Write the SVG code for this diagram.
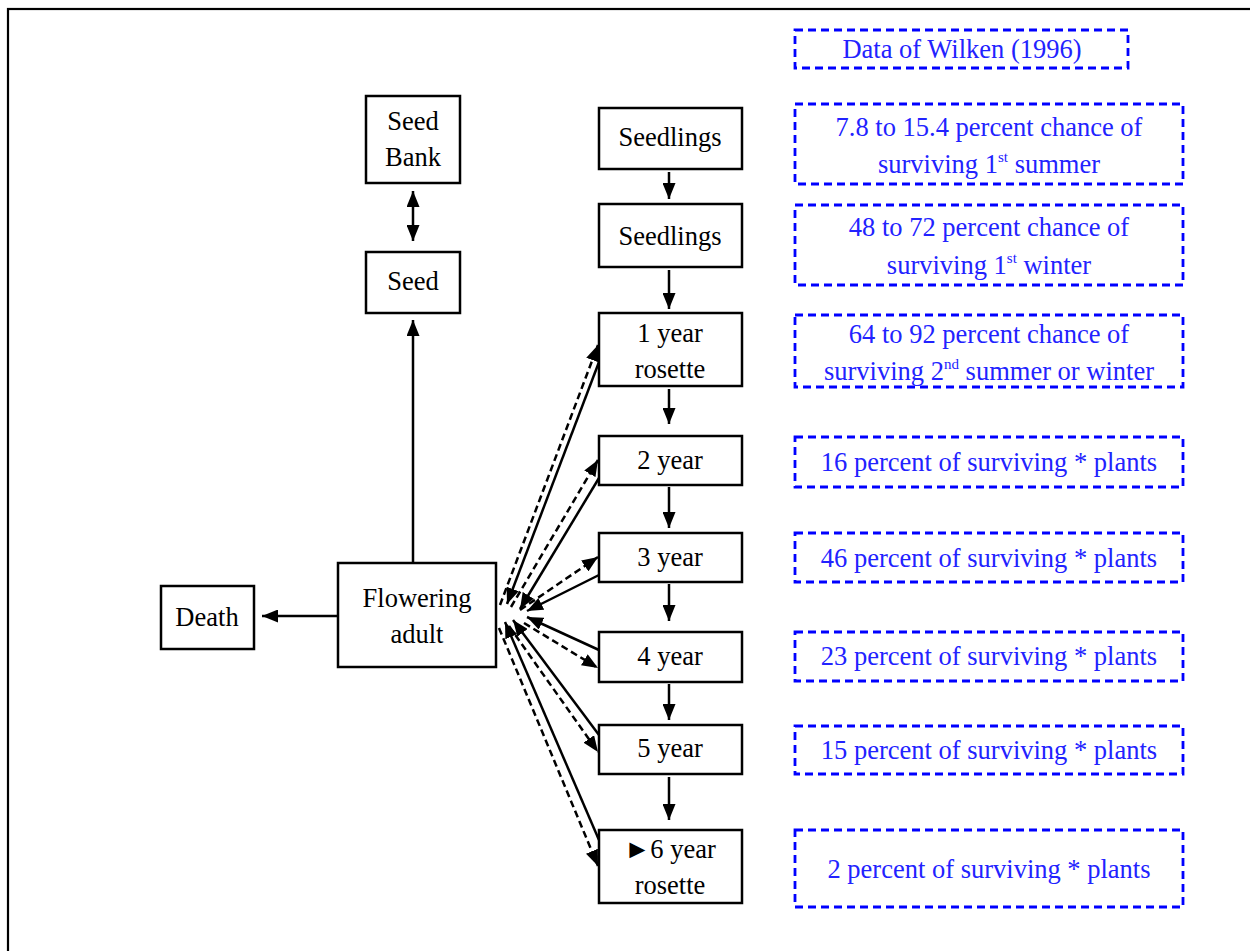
<svg xmlns="http://www.w3.org/2000/svg" width="1250" height="951" viewBox="0 0 1250 951" font-family="Liberation Serif, DejaVu Serif, serif">
<defs>
<marker id="ah" viewBox="0 0 16 13" refX="16" refY="6.5" markerWidth="16" markerHeight="13" markerUnits="userSpaceOnUse" orient="auto-start-reverse">
<path d="M0,0 L16,6.5 L0,13 z" fill="#000"/>
</marker>
<style>
.b{fill:#fff;stroke:#000;stroke-width:2.5}
.d{fill:#fff;stroke:#0000ff;stroke-width:2.8;stroke-dasharray:8 5}
.t{font-size:26.5px;fill:#000;text-anchor:middle}
.u{font-size:26.5px;fill:#2222ff;text-anchor:middle}
.sup{font-size:15px}
.c{stroke:#000;stroke-width:2.5;fill:none}
.cd{stroke:#000;stroke-width:2.5;fill:none;stroke-dasharray:7 4}
</style>
</defs>
<rect x="0" y="0" width="1250" height="951" fill="#fff"/>
<rect x="8" y="9" width="1300" height="1000" fill="none" stroke="#000" stroke-width="2.2"/>

<g id="connectors">
<line class="c" x1="413" y1="191" x2="413" y2="241" marker-start="url(#ah)" marker-end="url(#ah)"/>
<line class="c" x1="413" y1="563" x2="413" y2="320" marker-end="url(#ah)"/>
<line class="c" x1="338" y1="616" x2="262" y2="616" marker-end="url(#ah)"/>
<line class="c" x1="669" y1="172" x2="669" y2="199" marker-end="url(#ah)"/>
<line class="c" x1="669" y1="270" x2="669" y2="309" marker-end="url(#ah)"/>
<line class="c" x1="669" y1="389" x2="669" y2="424" marker-end="url(#ah)"/>
<line class="c" x1="669" y1="487" x2="669" y2="528" marker-end="url(#ah)"/>
<line class="c" x1="669" y1="584" x2="669" y2="621" marker-end="url(#ah)"/>
<line class="c" x1="669" y1="684" x2="669" y2="720" marker-end="url(#ah)"/>
<line class="c" x1="669" y1="777" x2="669" y2="820" marker-end="url(#ah)"/>

<line class="c" x1="599" y1="362" x2="507" y2="604" marker-end="url(#ah)"/>
<line class="cd" x1="500" y1="605" x2="598" y2="345" marker-end="url(#ah)"/>
<line class="c" x1="599" y1="478" x2="520" y2="609" marker-end="url(#ah)"/>
<line class="cd" x1="511" y1="607" x2="598" y2="460" marker-end="url(#ah)"/>
<line class="c" x1="599" y1="575" x2="527" y2="611" marker-end="url(#ah)"/>
<line class="cd" x1="520" y1="610" x2="598" y2="557" marker-end="url(#ah)"/>
<line class="c" x1="599" y1="650" x2="527" y2="617" marker-end="url(#ah)"/>
<line class="cd" x1="524" y1="623" x2="598" y2="668" marker-end="url(#ah)"/>
<line class="c" x1="599" y1="735" x2="513" y2="620" marker-end="url(#ah)"/>
<line class="cd" x1="509" y1="626" x2="598" y2="752" marker-end="url(#ah)"/>
<line class="c" x1="599" y1="840" x2="505" y2="622" marker-end="url(#ah)"/>
<line class="cd" x1="499" y1="628" x2="598" y2="866" marker-end="url(#ah)"/>
</g>

<g id="seedbank"><rect class="b" x="366" y="96" width="94" height="87"/><text class="t" x="413" y="130">Seed</text><text class="t" x="413" y="166">Bank</text></g>
<g id="seed"><rect class="b" x="366" y="252" width="94" height="61"/><text class="t" x="413" y="290">Seed</text></g>
<g id="flowering"><rect class="b" x="338" y="563" width="158" height="104"/><text class="t" x="417" y="607">Flowering</text><text class="t" x="417" y="643">adult</text></g>
<g id="death"><rect class="b" x="161" y="586" width="93" height="63"/><text class="t" x="207" y="626">Death</text></g>
<g id="seedlings1"><rect class="b" x="599" y="108" width="143" height="61"/><text class="t" x="670" y="146">Seedlings</text></g>
<g id="seedlings2"><rect class="b" x="599" y="204" width="143" height="63"/><text class="t" x="670" y="245">Seedlings</text></g>
<g id="y1"><rect class="b" x="599" y="313" width="143" height="73"/><text class="t" x="670" y="342">1 year</text><text class="t" x="670" y="378">rosette</text></g>
<g id="y2"><rect class="b" x="599" y="436" width="143" height="49"/><text class="t" x="670" y="469">2 year</text></g>
<g id="y3"><rect class="b" x="599" y="533" width="143" height="49"/><text class="t" x="670" y="566">3 year</text></g>
<g id="y4"><rect class="b" x="599" y="632" width="143" height="50"/><text class="t" x="670" y="665">4 year</text></g>
<g id="y5"><rect class="b" x="599" y="725" width="143" height="49"/><text class="t" x="670" y="757">5 year</text></g>
<g id="y6"><rect class="b" x="599" y="830" width="143" height="73"/><text class="t" x="670" y="858">►6 year</text><text class="t" x="670" y="894">rosette</text></g>

<g id="n1"><rect class="d" x="795" y="30" width="333" height="38"/><text class="u" x="962" y="58">Data of Wilken (1996)</text></g>
<g id="n2"><rect class="d" x="795" y="104" width="388" height="80"/><text class="u" x="989" y="136">7.8 to 15.4 percent chance of</text><text class="u" x="989" y="173">surviving 1<tspan class="sup" dy="-11">st</tspan><tspan dy="11"> summer</tspan></text></g>
<g id="n3"><rect class="d" x="795" y="205" width="388" height="80"/><text class="u" x="989" y="236">48 to 72 percent chance of</text><text class="u" x="989" y="274">surviving 1<tspan class="sup" dy="-11">st</tspan><tspan dy="11"> winter</tspan></text></g>
<g id="n4"><rect class="d" x="795" y="315" width="388" height="72"/><text class="u" x="989" y="343">64 to 92 percent chance of</text><text class="u" x="989" y="380">surviving 2<tspan class="sup" dy="-11">nd</tspan><tspan dy="11"> summer or winter</tspan></text></g>
<g id="n5"><rect class="d" x="795" y="437" width="388" height="50"/><text class="u" x="989" y="471">16 percent of surviving * plants</text></g>
<g id="n6"><rect class="d" x="795" y="533" width="388" height="49"/><text class="u" x="989" y="567">46 percent of surviving * plants</text></g>
<g id="n7"><rect class="d" x="795" y="632" width="388" height="49"/><text class="u" x="989" y="665">23 percent of surviving * plants</text></g>
<g id="n8"><rect class="d" x="795" y="726" width="388" height="48"/><text class="u" x="989" y="759">15 percent of surviving * plants</text></g>
<g id="n9"><rect class="d" x="795" y="830" width="388" height="77"/><text class="u" x="989" y="878">2 percent of surviving * plants</text></g>
</svg>
